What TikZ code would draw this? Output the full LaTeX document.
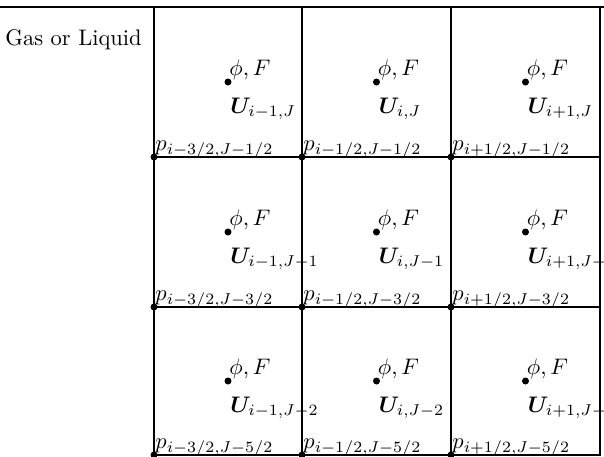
\documentclass[tikz,border=0pt]{standalone}
\usepackage{amsmath}
\usepackage{bm}
\begin{document}
\begin{tikzpicture}[x=1pt,y=-1pt,
  gridline/.style={line width=1.3pt},
  ptdot/.style={circle,fill=black,inner sep=0pt,minimum size=7pt},
  lbl/.style={inner sep=0pt,anchor=base west,scale=2.25}]
\useasboundingbox (0,0) rectangle (604,456);
% grid coordinates
\foreach \c/\x in {0/154,1/302,2/451,3/600}{
  \foreach \r/\y in {0/7,1/157,2/307,3/455}{
    \coordinate (g\c\r) at (\x,\y);
  }
}
\coordinate (tl) at (0,7);
\coordinate (tr) at (604,7);
\coordinate (b0) at (154,456);
\coordinate (b1) at (302,456);
\coordinate (b2) at (451,456);
\coordinate (b3) at (600,456);
% lines
\draw[gridline] (tl) -- (tr);
\draw[gridline] (g01) -- (g31);
\draw[gridline] (g02) -- (g32);
\draw[gridline] (g03) -- (g33);
\draw[gridline] (g00) -- (b0);
\draw[gridline] (g10) -- (b1);
\draw[gridline] (g20) -- (b2);
\draw[gridline] (g30) -- (b3);
% title
\node[lbl] (title) at (5,45) {Gas or Liquid};
% cell centres
\foreach \c/\x/\il in {0/228/{i-1},1/376.5/{i},2/525.5/{i+1}}{
  \foreach \r/\y/\jl in {0/82/{J},1/232/{J-1},2/381/{J-2}}{
    \node[ptdot] (c\c\r) at (\x,\y) {};
    \node[lbl] (phi\c\r) at (\x+1,\y-7) {$\phi,F$};
    \node[lbl] (u\c\r) at (\x+2,\y+31) {$\bm{U}_{\il,\jl}$};
  }
}
% pressure points
\foreach \c/\x/\il in {0/154/{i-3/2},1/302/{i-1/2},2/451/{i+1/2}}{
  \foreach \r/\y/\jl in {1/157/{J-1/2},2/307/{J-3/2},3/455/{J-5/2}}{
    \node[ptdot] (p\c\r) at (\x,\y) {};
    \node[lbl] (pl\c\r) at (\x+1,\y-7) {$p_{\il,\jl}$};
  }
}
\end{tikzpicture}
\end{document}
